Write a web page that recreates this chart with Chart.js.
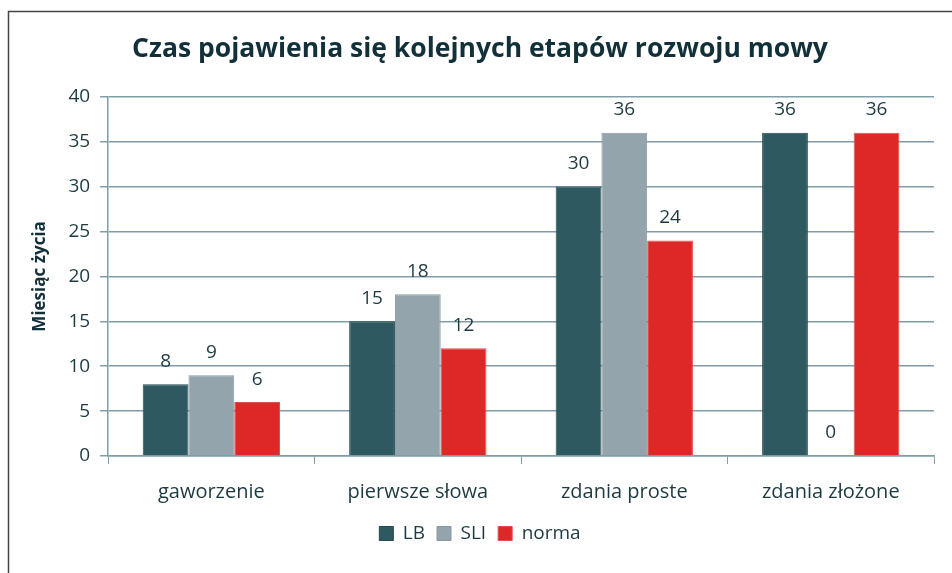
<!DOCTYPE html>
<html>
<head>
<meta charset="utf-8">
<script src="https://cdn.jsdelivr.net/npm/chart.js@4.4.1/dist/chart.umd.min.js"></script>
<style>
    html, body { margin: 0; padding: 0; background: #fff; }
    #wrap { width: 952px; height: 573px; position: relative; }
</style>
</head>
<body>
<div id="wrap"><canvas id="chart" width="952" height="573"></canvas></div>
<script>
// Chart data
const categories = ['gaworzenie', 'pierwsze słowa', 'zdania proste', 'zdania złożone'];
const lbValues = [8, 15, 30, 36];
const sliValues = [9, 18, 36, 0];
const normaValues = [6, 12, 24, 36];
const yTicks = [0, 5, 10, 15, 20, 25, 30, 35, 40];

const textColor = '#1d3a40';
const gridColor = '#7f9ea9';

// Draws value labels above bars and the outer frame
const valueLabels = {
    id: 'valueLabels',
    afterDatasetsDraw(chart) {
        const ctx = chart.ctx;
        ctx.save();
        ctx.font = '19px "Open Sans"';
        ctx.fillStyle = textColor;
        ctx.textAlign = 'center';
        ctx.textBaseline = 'middle';
        chart.data.datasets.forEach((ds, i) => {
            chart.getDatasetMeta(i).data.forEach((bar, j) => {
                ctx.fillText(ds.data[j], bar.x, bar.y - 23);
            });
        });
        ctx.restore();
    },
    afterDraw(chart) {
        const ctx = chart.ctx;
        ctx.save();
        ctx.strokeStyle = '#444';
        ctx.lineWidth = 1.5;
        ctx.beginPath();
        ctx.moveTo(8.5, 573);
        ctx.lineTo(8.5, 11.5);
        ctx.lineTo(952, 11.5);
        ctx.stroke();
        ctx.restore();
    }
};

new Chart(document.getElementById('chart'), {
    type: 'bar',
    data: {
        labels: categories,
        datasets: [
            { label: 'LB', data: lbValues, backgroundColor: '#2f5960', borderColor: '#234a50', borderWidth: 1 },
            { label: 'SLI', data: sliValues, backgroundColor: '#94a4ac', borderColor: '#8a9aa2', borderWidth: 1 },
            { label: 'norma', data: normaValues, backgroundColor: '#de2828', borderColor: '#e05050', borderWidth: 1 }
        ]
    },
    options: {
        responsive: false,
        animation: false,
        datasets: { bar: { categoryPercentage: 0.665, barPercentage: 1 } },
        layout: { padding: { left: 26, right: 18, top: 34, bottom: 20 } },
        plugins: {
            title: {
                display: true,
                text: 'Czas pojawienia się kolejnych etapów rozwoju mowy',
                color: '#12303a',
                font: { family: '"Open Sans"', size: 26.5, weight: 'bold' },
                padding: { top: 0, bottom: 31 }
            },
            legend: {
                position: 'bottom',
                labels: {
                    color: textColor,
                    font: { family: '"Open Sans"', size: 19 },
                    boxWidth: 14,
                    boxHeight: 14,
                    padding: 12
                }
            },
            tooltip: { enabled: false }
        },
        scales: {
            x: {
                afterFit(scale) { scale.height -= 8; },
                grid: { display: true, drawOnChartArea: false, offset: true, color: gridColor, tickLength: 8 },
                border: { color: gridColor, width: 1.5 },
                ticks: { color: textColor, font: { family: '"Open Sans"', size: 20 }, padding: 16 }
            },
            y: {
                min: 0,
                max: 40,
                afterBuildTicks(axis) { axis.ticks = yTicks.map(v => ({ value: v })); },
                title: {
                    display: true,
                    text: 'Miesiąc życia',
                    color: '#12303a',
                    font: { family: '"Open Sans"', size: 17, weight: 'bold' },
                    padding: { bottom: 8 }
                },
                grid: { color: gridColor, lineWidth: 1.5, tickLength: 8 },
                border: { color: gridColor, width: 1.5 },
                ticks: { color: textColor, font: { family: '"Open Sans"', size: 19 }, padding: 10 }
            }
        }
    },
    plugins: [valueLabels]
});
</script>
</body>
</html>
